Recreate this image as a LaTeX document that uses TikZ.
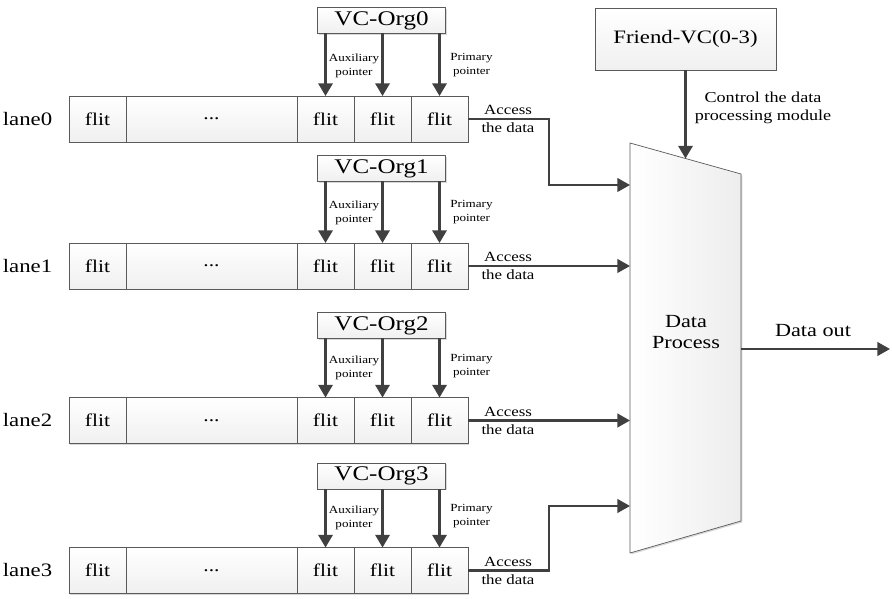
\documentclass[tikz,border=0pt]{standalone}
\usepackage{fontspec}
\setmainfont{Liberation Serif}[FakeStretch=1.2]
\usetikzlibrary{arrows.meta, positioning, calc, shadows}

\definecolor{linegray}{HTML}{404040}
\definecolor{edgegray}{HTML}{5A5A5A}

\begin{document}
\begin{tikzpicture}[
    x=0.03cm, y=-0.03cm,
    cell/.style={rectangle, draw=edgegray, line width=0.6pt, top color=white, bottom color=gray!12, minimum width=1.71cm, minimum height=1.38cm, inner sep=0pt, outer sep=0pt, font=\fontsize{15.3}{18}\selectfont, drop shadow={shadow xshift=1.2pt, shadow yshift=-1.2pt, fill=gray!60, opacity=0.5}},
    vcbox/.style={cell, minimum width=3.84cm, minimum height=0.78cm, font=\fontsize{17.8}{19}\selectfont},
    lanelabel/.style={font=\fontsize{16.2}{18}\selectfont},
    ptr/.style={-{Triangle[length=3.8mm, width=4.3mm]}, line width=2pt, draw=linegray},
    link/.style={-{Triangle[length=3.8mm, width=4.1mm]}, line width=1.8pt, draw=linegray},
    ptrlabel/.style={font=\fontsize{9.3}{12}\selectfont, align=center, inner sep=0pt},
    acclabel/.style={font=\fontsize{12}{15.4}\selectfont, align=center, inner sep=0pt},
    proclabel/.style={font=\fontsize{15.8}{18}\selectfont, align=center}
]
    \useasboundingbox (0,0) rectangle (892,599);

    % Lanes with their VC organisers
    \foreach \i/\ly/\vy in {0/119/20.5, 1/266/168.5, 2/420.5/325.5, 3/570.5/476} {
        \node[cell] (a\i) at (97.5,\ly) {flit};
        \node[cell, minimum width=5.13cm, right=0pt of a\i] (b\i) {...};
        \node[cell, right=0pt of b\i] (c\i) {flit};
        \node[cell, right=0pt of c\i] (d\i) {flit};
        \node[cell, right=0pt of d\i] (e\i) {flit};
        \node[lanelabel, left=0.38cm of a\i] (lane\i) {lane\i};

        \node[vcbox] (vc\i) at (381.5,\vy) {VC-Org\i};
        \draw[ptr] (vc\i.south -| c\i.north) -- (c\i.north);
        \draw[ptr] (vc\i.south -| d\i.north) -- (d\i.north);
        \draw[ptr] (vc\i.south -| e\i.north) -- (e\i.north);
        \node[ptrlabel] (aux\i) at ($(c\i.north)!.5!(d\i.north) + (0,-30)$) {Auxiliary\\pointer};
        \node[ptrlabel] (pri\i) at ($(e\i.north) + (32,-31)$) {Primary\\pointer};
        \node[acclabel] (acc\i) at ($(e\i.east) + (40,0)$) {Access\\the data};
    }

    % Data process module
    \draw[draw=edgegray, line width=0.6pt, left color=white, right color=gray!14,
          drop shadow={shadow xshift=1.2pt, shadow yshift=-1.2pt, fill=gray!60, opacity=0.5}]
        (630,143) -- (741,174) -- (741,521) -- (630,553) -- cycle;
    \node[proclabel] (dp) at (686,332) {Data\\Process};
    \coordinate (dpin0) at (630,185);
    \coordinate (dpin1) at (630,266);
    \coordinate (dpin2) at (630,420.5);
    \coordinate (dpin3) at (630,506);
    \coordinate (dptop) at (685.5,158.5);
    \coordinate (dpout) at (741,349);
    \coordinate (dataout) at (890,349);

    % Access the data
    \draw[link] (e0.east) -- ++(81,0) |- (dpin0);
    \draw[link] (e1.east) -- (dpin1);
    \draw[link] (e2.east) -- (dpin2);
    \draw[link] (e3.east) -- ++(81,0) |- (dpin3);

    % Friend VC control
    \node[vcbox, minimum width=5.43cm, minimum height=1.86cm, font=\fontsize{16.2}{19}\selectfont] (friend) at (685.5,39) {Friend-VC(0-3)};
    \draw[ptr] (friend.south) -- (dptop);
    \node[acclabel, font=\fontsize{12.9}{15.4}\selectfont] (ctrl) at (763,108) {Control the data\\processing module};

    % Output
    \draw[link] (dpout) -- (dataout);
    \node[proclabel] (out) at (813,331) {Data out};
\end{tikzpicture}
\end{document}
